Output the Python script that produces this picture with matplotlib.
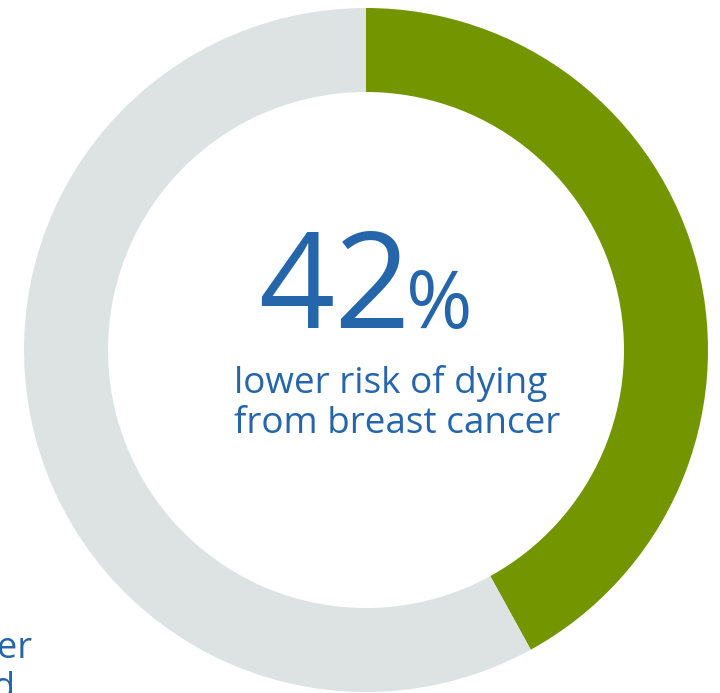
import matplotlib
matplotlib.use("Agg")
import matplotlib.pyplot as plt

# =============================================================================
# DATA
# =============================================================================

shares = [42, 58]
colors = ["#739600", "#dde3e3"]
big_number = "42"
big_suffix = "%"
caption = ["lower risk of dying", "from breast cancer"]
side_text = ["er", "d"]

BLUE = "#2566ab"

# =============================================================================
# PLOT
# =============================================================================

plt.rcParams["font.family"] = ["Open Sans", "DejaVu Sans"]

fig = plt.figure(figsize=(7.2, 6.93), dpi=100)
ax = fig.add_axes([0, 0, 1, 1])

ax.pie(shares, colors=colors, startangle=90, counterclock=False,
       center=(366, 343), radius=342,
       wedgeprops=dict(width=84, linewidth=0))

ax.set_xlim(0, 720)
ax.set_ylim(0, 693)
ax.set_aspect("equal")
ax.axis("off")

ax.text(258, 693 - 328, big_number, fontsize=96, color=BLUE,
        ha="left", va="baseline")
ax.text(406, 693 - 328, big_suffix, fontsize=58, color=BLUE,
        ha="left", va="baseline")

for i, line in enumerate(caption):
    ax.text(234, 693 - 393 - i * 40, line, fontsize=26.6, color=BLUE,
            ha="left", va="baseline")

# partial labels cut at the left edge
ax.text(32, 693 - 658, side_text[0], fontsize=26, color=BLUE,
        ha="right", va="baseline")
ax.text(15, 693 - 698, side_text[1], fontsize=26, color=BLUE,
        ha="right", va="baseline")

fig.savefig("out.png", dpi=100)
plt.close()
